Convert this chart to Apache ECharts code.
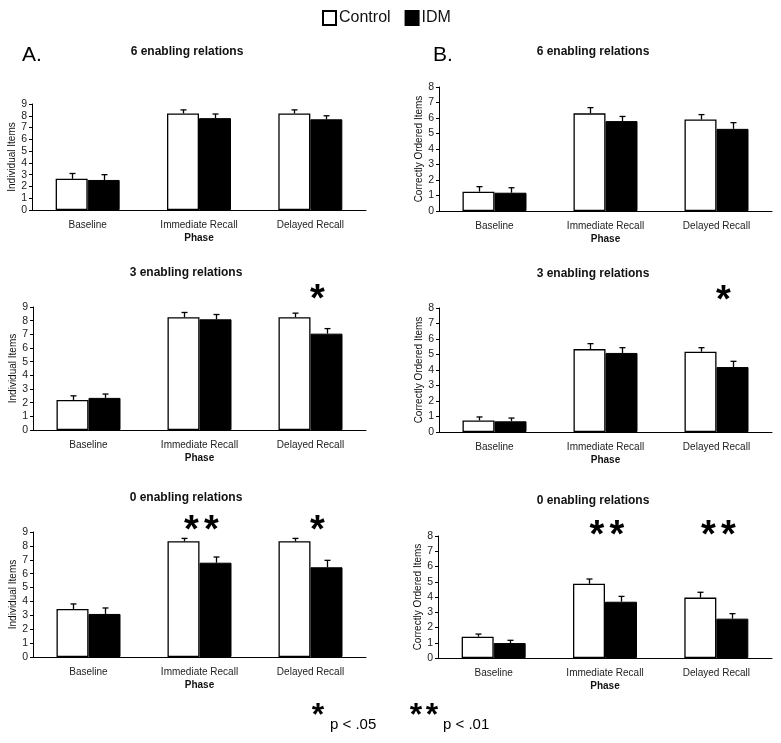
<!DOCTYPE html>
<html>
<head>
<meta charset="utf-8">
<script src="https://cdn.jsdelivr.net/npm/echarts@6/dist/echarts.min.js"></script>
<style>
  html, body { margin: 0; padding: 0; background: #fff; }
  #chart { width: 781px; height: 743px; }
</style>
</head>
<body>
<div id="chart"></div>
<script>
const phases = ['Baseline', 'Immediate Recall', 'Delayed Recall'];

// A: individual items
const a6Control = [2.65, 8.2, 8.2];
const a6ControlErr = [0.45, 0.3, 0.3];
const a6Idm = [2.55, 7.8, 7.7];
const a6IdmErr = [0.45, 0.35, 0.3];

const a3Control = [2.2, 8.25, 8.25];
const a3ControlErr = [0.3, 0.35, 0.3];
const a3Idm = [2.35, 8.1, 7.05];
const a3IdmErr = [0.28, 0.35, 0.37];

const a0Control = [3.46, 8.33, 8.33];
const a0ControlErr = [0.36, 0.21, 0.21];
const a0Idm = [3.1, 6.79, 6.46];
const a0IdmErr = [0.43, 0.41, 0.5];

// B: correctly ordered items
const b6Control = [1.25, 6.3, 5.9];
const b6ControlErr = [0.32, 0.37, 0.32];
const b6Idm = [1.18, 5.8, 5.3];
const b6IdmErr = [0.32, 0.3, 0.4];

const b3Control = [0.75, 5.35, 5.18];
const b3ControlErr = [0.22, 0.35, 0.26];
const b3Idm = [0.69, 5.1, 4.19];
const b3IdmErr = [0.21, 0.34, 0.37];

const b0Control = [1.4, 4.87, 3.96];
const b0ControlErr = [0.17, 0.31, 0.35];
const b0Idm = [0.98, 3.69, 2.58];
const b0IdmErr = [0.18, 0.35, 0.33];

// number of asterisks per phase
const a6Sig = [0, 0, 0];
const a3Sig = [0, 0, 1];
const a0Sig = [0, 2, 1];
const b6Sig = [0, 0, 0];
const b3Sig = [0, 0, 1];
const b0Sig = [0, 2, 2];

const font = 'Liberation Sans, Arial, sans-serif';
const barWidth = 32;

const panels = [
  { grid: { left: 32, top: 104, width: 334, height: 106 }, max: 9, yName: 'Individual Items', title: '6 enabling relations',
    ctrl: a6Control, ctrlErr: a6ControlErr, idm: a6Idm, idmErr: a6IdmErr, sig: a6Sig, lift: 14 },
  { grid: { left: 33, top: 307, width: 333, height: 123 }, max: 9, yName: 'Individual Items', title: '3 enabling relations',
    ctrl: a3Control, ctrlErr: a3ControlErr, idm: a3Idm, idmErr: a3IdmErr, sig: a3Sig, lift: 15 },
  { grid: { left: 33, top: 532, width: 333, height: 125 }, max: 9, yName: 'Individual Items', title: '0 enabling relations',
    ctrl: a0Control, ctrlErr: a0ControlErr, idm: a0Idm, idmErr: a0IdmErr, sig: a0Sig, lift: 9 },
  { grid: { left: 439, top: 87, width: 333, height: 124 }, max: 8, yName: 'Correctly Ordered Items', title: '6 enabling relations',
    ctrl: b6Control, ctrlErr: b6ControlErr, idm: b6Idm, idmErr: b6IdmErr, sig: b6Sig, lift: 14 },
  { grid: { left: 439, top: 308, width: 333, height: 124 }, max: 8, yName: 'Correctly Ordered Items', title: '3 enabling relations',
    ctrl: b3Control, ctrlErr: b3ControlErr, idm: b3Idm, idmErr: b3IdmErr, sig: b3Sig, lift: 15 },
  { grid: { left: 438, top: 536, width: 334, height: 122 }, max: 8, yName: 'Correctly Ordered Items', title: '0 enabling relations',
    ctrl: b0Control, ctrlErr: b0ControlErr, idm: b0Idm, idmErr: b0IdmErr, sig: b0Sig, lift: 8 }
];
const titlePos = [[187, 52], [186, 273], [186, 498], [593, 52], [593, 274], [593, 501]];

const chart = echarts.init(document.getElementById('chart'));

const errorBars = (idx, values, errors, side) => ({
  type: 'custom',
  xAxisIndex: idx,
  yAxisIndex: idx,
  silent: true,
  z: 3,
  data: values.map((v, i) => [i, v, errors[i]]),
  renderItem: (params, api) => {
    const base = api.coord([api.value(0), api.value(1)]);
    const top = api.coord([api.value(0), api.value(1) + api.value(2)]);
    const x = Math.round(base[0] + side * barWidth / 2) + 0.5;
    const lineStyle = { stroke: '#000', lineWidth: 1.3 };
    return {
      type: 'group',
      children: [
        { type: 'line', shape: { x1: x, y1: base[1], x2: x, y2: top[1] }, style: lineStyle },
        { type: 'line', shape: { x1: x - 3, y1: top[1], x2: x + 3, y2: top[1] }, style: lineStyle }
      ]
    };
  }
});

const stars = (idx, panel) => ({
  type: 'custom',
  xAxisIndex: idx,
  yAxisIndex: idx,
  silent: true,
  data: panel.sig.map((n, i) => [i, n]),
  renderItem: (params, api) => {
    const n = api.value(1);
    if (!n) return null;
    const p = api.coord([api.value(0), panel.max]);
    const cx = p[0] + (n === 1 ? 7 : 2);
    const y = p[1] - panel.lift + 9;
    const children = [];
    for (let k = 0; k < n; k++) {
      children.push({
        type: 'text',
        style: { x: cx + (k - (n - 1) / 2) * 20, y: y, text: '*', font: 'bold 38px ' + font, fill: '#000', align: 'center', verticalAlign: 'middle' }
      });
    }
    return { type: 'group', children };
  }
});

const grids = [];
const xAxes = [];
const yAxes = [];
const series = [];
const graphics = [];

panels.forEach((p, idx) => {
  grids.push(p.grid);
  xAxes.push({
    type: 'category',
    gridIndex: idx,
    data: phases,
    name: 'Phase',
    nameLocation: 'middle',
    nameGap: 23,
    nameTextStyle: { fontFamily: font, fontWeight: 'bold', fontSize: 10, color: '#111' },
    axisLine: { lineStyle: { color: '#000', width: 1 } },
    axisTick: { show: false },
    axisLabel: { margin: 10, fontFamily: font, fontSize: 10, color: '#222' }
  });
  yAxes.push({
    type: 'value',
    gridIndex: idx,
    min: 0,
    max: p.max,
    interval: 1,
    name: p.yName,
    nameLocation: 'middle',
    nameGap: 15,
    nameTextStyle: { fontFamily: font, fontSize: 10, color: '#111' },
    axisLine: { show: true, lineStyle: { color: '#000', width: 1 } },
    axisTick: { show: true, length: 3, lineStyle: { color: '#000' } },
    axisLabel: { margin: 5, fontFamily: font, fontSize: 10.5, color: '#222' },
    splitLine: { show: false }
  });
  series.push({
    name: 'Control', type: 'bar', xAxisIndex: idx, yAxisIndex: idx,
    data: p.ctrl, barWidth: barWidth, barGap: '0%',
    itemStyle: { color: '#fff', borderColor: '#000', borderWidth: 1.3 }
  });
  series.push({
    name: 'IDM', type: 'bar', xAxisIndex: idx, yAxisIndex: idx,
    data: p.idm, barWidth: barWidth, barGap: '0%',
    itemStyle: { color: '#000', borderColor: '#000', borderWidth: 1 }
  });
  series.push(errorBars(idx, p.ctrl, p.ctrlErr, -1));
  series.push(errorBars(idx, p.idm, p.idmErr, 1));
  series.push(stars(idx, p));
  graphics.push({
    type: 'text', x: titlePos[idx][0], y: titlePos[idx][1],
    style: { text: p.title, font: 'bold 12px ' + font, fill: '#111', align: 'center', verticalAlign: 'middle' }
  });
});

graphics.push(
  { type: 'text', x: 22, y: 55, style: { text: 'A.', font: '21px ' + font, fill: '#000', verticalAlign: 'middle' } },
  { type: 'text', x: 433, y: 55, style: { text: 'B.', font: '21px ' + font, fill: '#000', verticalAlign: 'middle' } },
  { type: 'text', x: 318, y: 716, style: { text: '*', font: 'bold 32px ' + font, fill: '#000', align: 'center', verticalAlign: 'middle' } },
  { type: 'text', x: 330, y: 725, style: { text: 'p < .05', font: '15px ' + font, fill: '#000', verticalAlign: 'middle' } },
  { type: 'text', x: 416, y: 716, style: { text: '*', font: 'bold 32px ' + font, fill: '#000', align: 'center', verticalAlign: 'middle' } },
  { type: 'text', x: 432, y: 716, style: { text: '*', font: 'bold 32px ' + font, fill: '#000', align: 'center', verticalAlign: 'middle' } },
  { type: 'text', x: 443, y: 725, style: { text: 'p < .01', font: '15px ' + font, fill: '#000', verticalAlign: 'middle' } }
);

chart.setOption({
  animation: false,
  backgroundColor: '#fff',
  legend: {
    data: ['Control', 'IDM'],
    left: 317,
    top: 5,
    itemWidth: 13,
    itemHeight: 14,
    itemGap: 14,
    icon: 'rect',
    textStyle: { fontFamily: font, fontSize: 16, color: '#111', padding: [0, 0, 0, -2] }
  },
  grid: grids,
  xAxis: xAxes,
  yAxis: yAxes,
  series: series,
  graphic: graphics
});
</script>
</body>
</html>
